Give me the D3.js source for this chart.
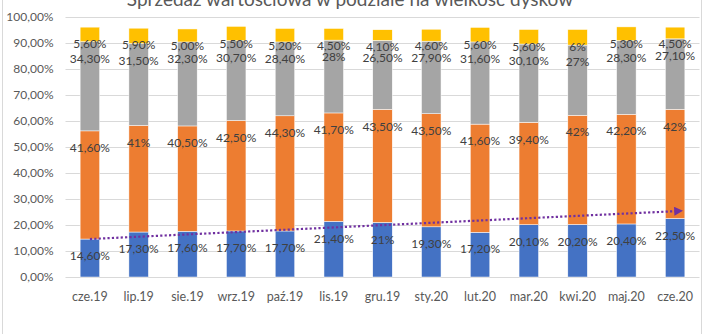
<!DOCTYPE html>
<html><head><meta charset="utf-8">
<script src="https://cdn.jsdelivr.net/npm/d3@7"></script>
<style>
html,body{margin:0;padding:0;background:#fff;}
svg{display:block;font-family:Lato,"Open Sans",sans-serif;}
</style></head>
<body>
<svg id="chart" width="704" height="334"></svg>
<script>
const categories = ["cze.19","lip.19","sie.19","wrz.19","paź.19","lis.19","gru.19","sty.20","lut.20","mar.20","kwi.20","maj.20","cze.20"];
const seriesBlue   = [14.6,17.3,17.6,17.7,17.7,21.4,21,19.3,17.2,20.1,20.2,20.4,22.5];
const seriesOrange = [41.6,41,40.5,42.5,44.3,41.7,43.5,43.5,41.6,39.4,42,42.2,42];
const seriesGray   = [34.3,31.5,32.3,30.7,28.4,28,26.5,27.9,31.6,30.1,27,28.3,27.1];
const seriesYellow = [5.6,5.9,5,5.5,5.2,4.5,4.1,4.6,5.6,5.6,6,5.3,4.5];
const seriesColors = ["#4472C4","#ED7D31","#A5A5A5","#FFC000"];
const yTicks = [0,10,20,30,40,50,60,70,80,90,100];
const trendValues = [14.6, 25.3]; // trend arrow: start at first category, end at last category
// labels shown with two decimals even though the value is whole (series index, category)
const twoDecimalLabels = [[3, "sie.19"]];
const title = "Sprzedaż wartościowa w podziale na wielkość dysków";

const svg = d3.select("#chart");
const W = 704, H = 334;
const plot = {left:65.5, right:699.5, top:17, bottom:277};

const x = d3.scaleBand().domain(categories).range([plot.left, plot.right]).paddingInner(0.6).paddingOuter(0.3);
const y = d3.scaleLinear().domain([0,100]).range([plot.bottom, plot.top]);

// chart border (outer)
svg.append("rect").attr("x",2.5).attr("y",-20).attr("width",699).attr("height",H+40)
  .attr("fill","none").attr("stroke","#d9d9d9").attr("stroke-width",1);

// title
svg.append("text").attr("x",350).attr("y",6).attr("text-anchor","middle")
  .attr("font-size",19).attr("fill","#595959").text(title);

// gridlines
svg.append("g").selectAll("line").data(yTicks).join("line")
  .attr("x1",plot.left).attr("x2",plot.right)
  .attr("y1",d=>Math.round(y(d))+0.5).attr("y2",d=>Math.round(y(d))+0.5)
  .attr("stroke","#d9d9d9").attr("stroke-width",1);

// y axis labels
const fmtAxis = d => d.toFixed(2).replace(".",",")+"%";
const yAxis = d3.axisLeft(y).tickValues(yTicks).tickFormat(fmtAxis).tickSize(0).tickPadding(0);
const gy = svg.append("g").attr("transform",`translate(${plot.left-12},0)`).call(yAxis);
gy.select(".domain").remove();
gy.selectAll("text").attr("font-size",12).attr("fill","#595959").attr("font-family","Lato,'Open Sans',sans-serif");

// x axis labels
const xAxis = d3.axisBottom(x).tickSize(0).tickPadding(0);
const gx = svg.append("g").attr("transform",`translate(0,${plot.bottom+15})`).call(xAxis);
gx.select(".domain").remove();
gx.selectAll("text").attr("font-size",12.5).attr("fill","#595959").attr("font-family","Lato,'Open Sans',sans-serif");

// stacked data
const rows = categories.map((c,i)=>({cat:c, b:seriesBlue[i], o:seriesOrange[i], g:seriesGray[i], yl:seriesYellow[i]}));
const keys = ["b","o","g","yl"];
const stack = d3.stack().keys(keys)(rows);

const fmtLabel = (v, si, cat) => {
  const forced = twoDecimalLabels.some(([s,c]) => s===si && c===cat);
  return (Number.isInteger(v) && !forced) ? v+"%" : v.toFixed(2).replace(".",",")+"%";
};

const layers = svg.append("g").selectAll("g").data(stack).join("g")
  .attr("fill",(d,i)=>seriesColors[i]);
layers.selectAll("rect").data(d=>d).join("rect")
  .attr("x",d=>x(d.data.cat))
  .attr("width",x.bandwidth())
  .attr("y",d=>y(d[1]))
  .attr("height",d=>y(d[0])-y(d[1]))
  .attr("stroke","#ffffff").attr("stroke-width",0.5);

// trend arrow (dotted)
const defs = svg.append("defs");
defs.append("marker").attr("id","arr").attr("viewBox","0 0 10 10").attr("refX",1).attr("refY",5)
  .attr("markerWidth",4).attr("markerHeight",4).attr("orient","auto").attr("markerUnits","strokeWidth")
  .append("path").attr("d","M0,0 L10,5 L0,10 Z").attr("fill","#7030A0");
const cx = c => x(c)+x.bandwidth()/2;
svg.append("line")
  .attr("x1",cx(categories[0])).attr("y1",y(trendValues[0]))
  .attr("x2",cx(categories[categories.length-1])).attr("y2",y(trendValues[1]))
  .attr("stroke","#7030A0").attr("stroke-width",2.2).attr("stroke-dasharray","2.2,2.2")
  .attr("marker-end","url(#arr)");

// data labels: placed inside near top of each segment
const lbl = svg.append("g");
stack.forEach((layer, si)=>{
  layer.forEach(d=>{
    const v = +(d[1]-d[0]).toFixed(2);
    lbl.append("text").attr("x",cx(d.data.cat)).attr("y",y(d[1])+17)
      .attr("dy","0.35em").attr("text-anchor","middle")
      .attr("font-size",12).attr("fill","#404040")
      .text(fmtLabel(v, si, d.data.cat));
  });
});
</script>
</body></html>
